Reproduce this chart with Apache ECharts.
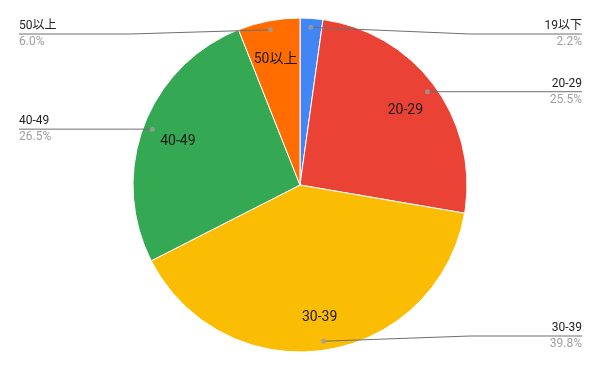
<!DOCTYPE html>
<html><head><meta charset="utf-8">
<script src="https://cdn.jsdelivr.net/npm/echarts@6/dist/echarts.min.js"></script>
<style>html,body{margin:0;padding:0;background:#fff}#c{width:600px;height:371px}</style>
</head><body><div id="c"></div>
<script>
const categories = ['19以下', '20-29', '30-39', '40-49', '50以上'];
const values = [2.2, 25.5, 39.8, 26.5, 6.0];
const colors = ['#4285F4', '#EA4335', '#FBBC04', '#34A853', '#FF6D01'];

const CX = 300, CY = 185, R = 167, RD = 158;
const FONT = 'Roboto, "Noto Sans CJK JP", sans-serif';

const total = values.reduce((a, b) => a + b, 0);
let cum = 0;
const mids = values.map(v => { const m = cum + v / 2; cum += v; return m; });
function dotPoint(i) {
  const t = mids[i] / total * Math.PI * 2;
  return [CX + RD * Math.sin(t), CY - RD * Math.cos(t)];
}

const chart = echarts.init(document.getElementById('c'), null, {renderer: 'canvas'});
chart.setOption({
  animation: false,
  backgroundColor: '#fff',
  polar: {center: [CX, CY], radius: R},
  angleAxis: {type: 'value', min: 0, max: total, startAngle: 90, clockwise: true, show: false},
  radiusAxis: {type: 'value', min: 0, max: 1, show: false},
  series: [
    {
      type: 'pie', z: 1, center: [CX, CY], radius: [0, R], startAngle: 90, clockwise: true,
      label: {show: false}, labelLine: {show: false},
      itemStyle: {borderColor: '#fff', borderWidth: 1},
      data: categories.map((c, i) => ({name: c, value: values[i], itemStyle: {color: colors[i]}}))
    },
    {
      type: 'pie', z: 3, center: [CX, CY], radius: [88, R], startAngle: 90, clockwise: true, silent: true,
      itemStyle: {color: 'rgba(0,0,0,0)'},
      label: {show: true, position: 'inside', color: '#1a1a1a', fontSize: 14, fontFamily: FONT, formatter: '{b}', offset: [0, 3]},
      labelLine: {show: false},
      data: categories.map((c, i) => ({name: c, value: values[i], label: {show: values[i] >= 3}}))
    },
    {
      type: 'pie', z: 5, center: [CX, CY], radius: [0, RD], startAngle: 90, clockwise: true, silent: true,
      avoidLabelOverlap: false,
      itemStyle: {color: 'rgba(0,0,0,0)'},
      label: {
        show: true, position: 'outside', fontFamily: FONT,
        formatter: p => '{n|' + p.name + '}\n{p|' + p.value.toFixed(1) + '%}',
        rich: {
          n: {fontSize: 12, color: '#222', lineHeight: 16, fontFamily: FONT},
          p: {fontSize: 12, color: '#9e9e9e', lineHeight: 16, fontFamily: FONT}
        }
      },
      labelLine: {show: true, length: 10, length2: 10, lineStyle: {color: '#6f6f6f', width: 1}},
      labelLayout: function (p) {
        const s = dotPoint(p.dataIndex);
        const right = s[0] >= CX;
        const lineY = Math.min(Math.max(s[1], 34), 336);
        const bendX = right ? Math.max(470, s[0]) : Math.min(130, s[0]);
        const endX = right ? 582 : 19;
        return {
          x: endX, y: lineY, align: right ? 'right' : 'left', verticalAlign: 'middle',
          labelLinePoints: [[s[0], s[1]], [bendX, lineY], [endX, lineY]]
        };
      },
      data: categories.map((c, i) => ({name: c, value: values[i]}))
    },
    {
      type: 'scatter', z: 6, coordinateSystem: 'polar', symbol: 'circle', symbolSize: 5, silent: true,
      itemStyle: {color: '#9e9e9e'},
      data: mids.map(m => [RD / R, m])
    }
  ]
});
</script></body></html>
